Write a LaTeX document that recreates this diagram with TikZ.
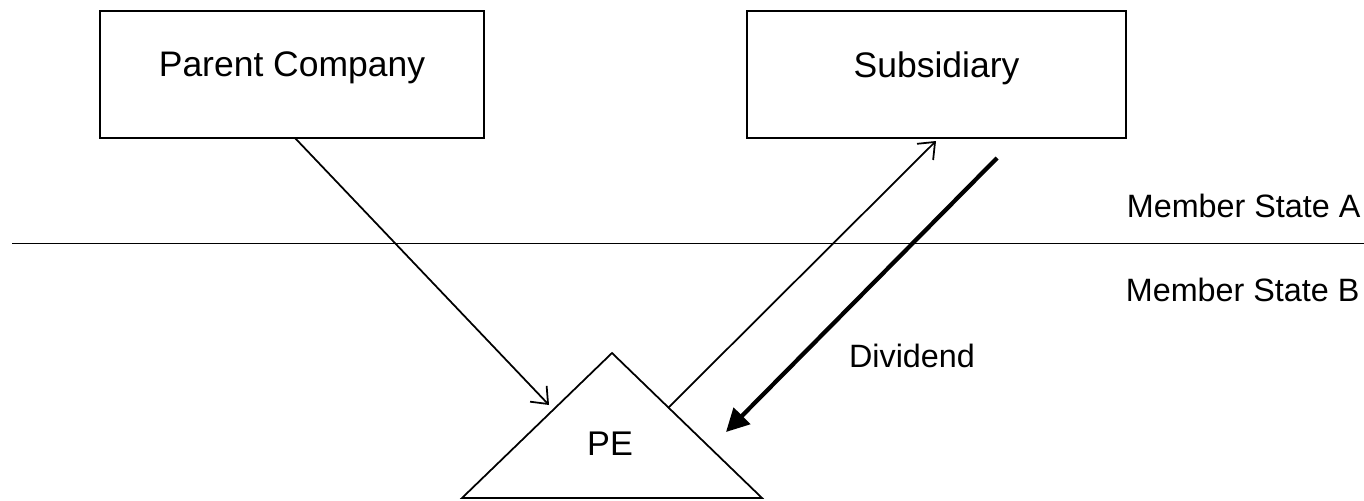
\documentclass[tikz,border=0pt]{standalone}
\usepackage{fontspec}
\setmainfont{Liberation Sans}
\usetikzlibrary{arrows.meta,positioning}

\begin{document}
\begin{tikzpicture}[x=0.02cm,y=-0.02cm,line width=1pt,
  box/.style={draw,minimum height=2.54cm,inner sep=0pt,text depth=0.4cm,
    font=\fontsize{20.2}{24}\selectfont},
  lbl/.style={inner sep=0pt,font=\fontsize{18.4}{22}\selectfont},
  thin arrow/.style={-{Straight Barb[length=8pt,width=13pt,line width=1pt]}},
  thick arrow/.style={line width=2.4pt,-{Triangle[length=13pt,width=13pt]}}]
\useasboundingbox (0,0) rectangle (1364,500);

\node[box,minimum width=7.68cm] (parent) at (292,74.5) {Parent Company};
\node[box,minimum width=7.58cm] (sub) at (936.5,74.5) {Subsidiary};

% border between the two states
\draw (12,243.5) -- (1364,243.5);
\node[lbl,anchor=base west] (msa) at (1126,217) {Member State A};
\node[lbl,anchor=base west] (msb) at (1125,301) {Member State B};

% permanent establishment
\coordinate (apex) at (612,353);
\coordinate (bl) at (462,498);
\coordinate (br) at (762,498);
\draw (bl) -- (apex) -- (br) -- cycle;
\node[lbl,font=\fontsize{19.5}{22}\selectfont,anchor=base] (pe) at (610,455) {PE};

\coordinate (p1) at (295,138);
\coordinate (p2) at (549,405);
\coordinate (e1) at (668,408);
\coordinate (s1) at (936,141);
\coordinate (s2) at (997,158);
\coordinate (e2) at (726,432);

\draw[thin arrow] (p1) -- (p2);
\draw[thin arrow] (e1) -- (s1);
\draw[thick arrow] (s2) -- (e2);
\node[lbl,anchor=base] (div) at (912,367) {Dividend};
\end{tikzpicture}
\end{document}
